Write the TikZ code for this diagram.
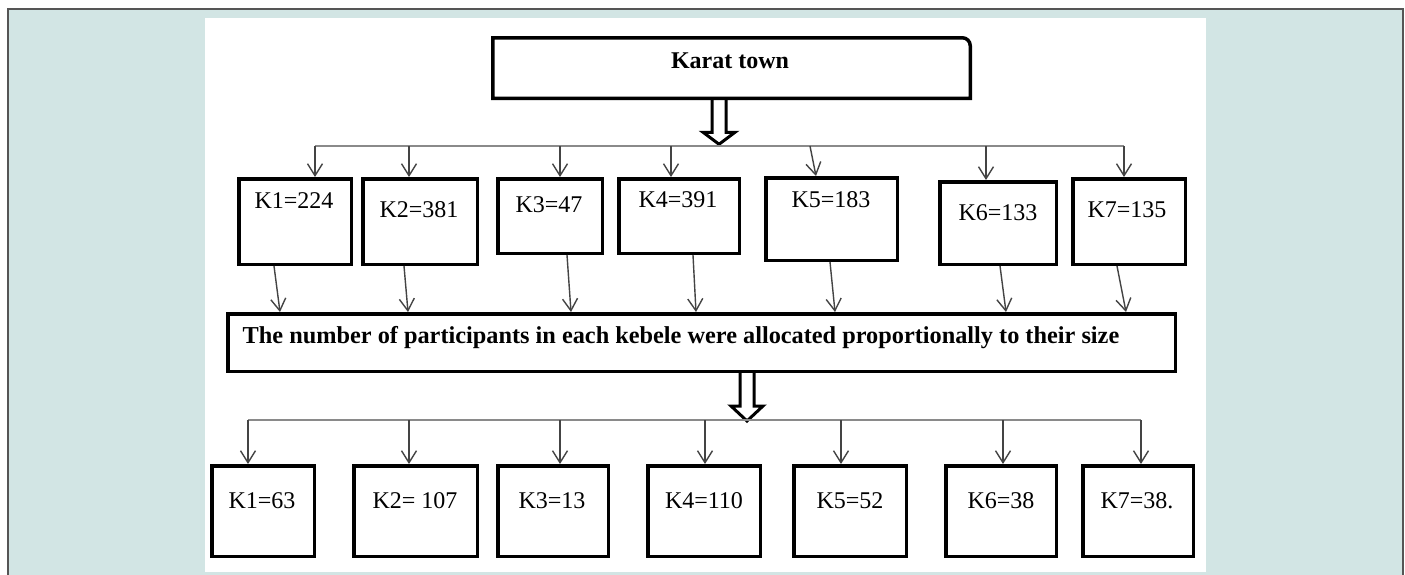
\documentclass[tikz,border=0pt]{standalone}
\usepackage{fontspec}
\setmainfont{Liberation Serif}
\usetikzlibrary{arrows.meta,calc}
\definecolor{bgteal}{HTML}{D2E5E4}
\definecolor{linegray}{HTML}{444444}
\definecolor{bargray}{HTML}{8A8A8A}
\definecolor{framegray}{HTML}{555555}
\tikzset{
  kbox/.style={draw=black, line width=3.5pt, rectangle, inner sep=0pt, fill=white},
  lbl/.style={font=\fontsize{24}{28}\selectfont, inner sep=0pt, anchor=base},
  blbl/.style={font=\fontsize{24}{28}\selectfont\bfseries, inner sep=0pt, anchor=base},
  arr/.style={draw=linegray, line width=1.4pt, -{Straight Barb[length=12pt,width=15pt,line width=1.4pt]}},
  hbar/.style={draw=bargray, line width=2pt},
  hollow/.style={draw=black, line width=3pt, fill=white, line join=miter}
}
\begin{document}
\begin{tikzpicture}[x=1pt,y=-1pt]
\useasboundingbox (0,0) rectangle (1405,574);
\clip (0,0) rectangle (1405,574);
% background
\fill[bgteal] (8,9) rectangle (1403,580);
\draw[framegray, line width=1.5pt] (8,580) -- (8,9) -- (1403,9) -- (1403,580);
\fill[white] (205,18) rectangle (1206,572);

% top box
\node[minimum width=477.5pt, minimum height=60.5pt, inner sep=0pt, outer sep=0pt] (karat) at (731.5,68) {};
\coordinate (h1) at (719,146);
\coordinate (h1top) at (karat.south -| h1);
\draw[hollow] (h1top) ++(-7,0) -- ++(0,34) -- ++(-9,0) -- ++(16,12) -- ++(16,-12) -- ++(-9,0) -- ++(0,-34);
\draw[line width=3.5pt, line join=miter] (karat.south west) -- (karat.north west) -- ([xshift=-8pt]karat.north east) arc[start angle=90, end angle=0, radius=8pt] -- (karat.south east) -- cycle;
\node[blbl] (tk) at (730,68) {Karat town};

% first bar
\coordinate (u1) at (315,146);
\coordinate (u2) at (409,146);
\coordinate (u3) at (560,146);
\coordinate (u4) at (671,146);
\coordinate (u5) at (810,146);
\coordinate (u6) at (986,146);
\coordinate (u7) at (1124,146);
\draw[hbar] (u1) -- (u7);

% row 1 boxes
\node[kbox, minimum width=112.5pt, minimum height=85.5pt] (a1) at (295,221.5) {};
\node[kbox, minimum width=114.5pt, minimum height=85.5pt] (a2) at (420,221.5) {};
\node[kbox, minimum width=104.5pt, minimum height=74.5pt] (a3) at (550,216) {};
\node[kbox, minimum width=120.5pt, minimum height=74.5pt] (a4) at (679,216) {};
\node[kbox, minimum width=131.5pt, minimum height=82.5pt] (a5) at (831.5,219) {};
\node[kbox, minimum width=116.5pt, minimum height=82.5pt] (a6) at (998,223) {};
\node[kbox, minimum width=112.5pt, minimum height=85.5pt] (a7) at (1129,221.5) {};

\node[lbl] (ta1) at (294,208.5) {K1=224};
\node[lbl] (ta2) at (419,217) {K2=381};
\node[lbl] (ta3) at (549,212.5) {K3=47};
\node[lbl] (ta4) at (678,207.5) {K4=391};
\node[lbl] (ta5) at (831,207.5) {K5=183};
\node[lbl] (ta6) at (998,220.5) {K6=133};
\node[lbl] (ta7) at (1127,217.5) {K7=135};

\draw[arr] (u1) -- (u1 |- a1.north);
\draw[arr] (u2) -- (u2 |- a2.north);
\draw[arr] (u3) -- (u3 |- a3.north);
\draw[arr] (u4) -- (u4 |- a4.north);
\draw[arr] (u5) -- ([xshift=-15.5pt]a5.north);
\draw[arr] (u6) -- (u6 |- a6.north);
\draw[arr] (u7) -- (u7 |- a7.north);

% middle box
\node[kbox, minimum width=947.5pt, minimum height=57.5pt] (mid) at (701.5,342.5) {};
\node[inner sep=0pt, anchor=base, font=\fontsize{24.3}{28}\selectfont\bfseries] (tmid) at (681,343) {The number of participants in each kebele were allocated proportionally to their size};

\draw[arr] ([xshift=-21pt]a1.south) -- ([xshift=54pt]mid.north west);
\draw[arr] ([xshift=-16pt]a2.south) -- ([xshift=182pt]mid.north west);
\draw[arr] ([xshift=17pt]a3.south) -- ([xshift=345pt]mid.north west);
\draw[arr] ([xshift=14pt]a4.south) -- ([xshift=470pt]mid.north west);
\draw[arr] ([xshift=-1.5pt]a5.south) -- ([xshift=609pt]mid.north west);
\draw[arr] ([xshift=2pt]a6.south) -- ([xshift=780pt]mid.north west);
\draw[arr] ([xshift=-12pt]a7.south) -- ([xshift=900pt]mid.north west);

% second hollow arrow and bar
\coordinate (h2) at (747,420);
\coordinate (h2top) at (mid.south -| h2);
\draw[hollow] (h2top) ++(-7,0) -- ++(0,33) -- ++(-9,0) -- ++(16,15) -- ++(16,-15) -- ++(-9,0) -- ++(0,-33);

\coordinate (v1) at (248,420);
\coordinate (v2) at (409,420);
\coordinate (v3) at (560,420);
\coordinate (v4) at (705,420);
\coordinate (v5) at (841,420);
\coordinate (v6) at (1003,420);
\coordinate (v7) at (1141,420);
\draw[hbar] (v1) -- (v7);

% row 2 boxes
\node[kbox, minimum width=102.5pt, minimum height=90.5pt] (b1) at (263,511) {};
\node[kbox, minimum width=123.5pt, minimum height=90.5pt] (b2) at (415.5,511) {};
\node[kbox, minimum width=110.5pt, minimum height=90.5pt] (b3) at (553,511) {};
\node[kbox, minimum width=112.5pt, minimum height=90.5pt] (b4) at (704,511) {};
\node[kbox, minimum width=112.5pt, minimum height=90.5pt] (b5) at (850,511) {};
\node[kbox, minimum width=110.5pt, minimum height=90.5pt] (b6) at (1001,511) {};
\node[kbox, minimum width=110.5pt, minimum height=90.5pt] (b7) at (1138,511) {};

\node[lbl] (tb1) at (262,508) {K1=63};
\node[lbl] (tb2) at (415,508) {K2= 107};
\node[lbl] (tb3) at (552,508) {K3=13};
\node[lbl] (tb4) at (704,508) {K4=110};
\node[lbl] (tb5) at (850,508) {K5=52};
\node[lbl] (tb6) at (1001,508) {K6=38};
\node[lbl] (tb7) at (1137,508) {K7=38.};

\draw[arr] (v1) -- (v1 |- b1.north);
\draw[arr] (v2) -- (v2 |- b2.north);
\draw[arr] (v3) -- (v3 |- b3.north);
\draw[arr] (v4) -- (v4 |- b4.north);
\draw[arr] (v5) -- (v5 |- b5.north);
\draw[arr] (v6) -- (v6 |- b6.north);
\draw[arr] (v7) -- (v7 |- b7.north);
\end{tikzpicture}
\end{document}
